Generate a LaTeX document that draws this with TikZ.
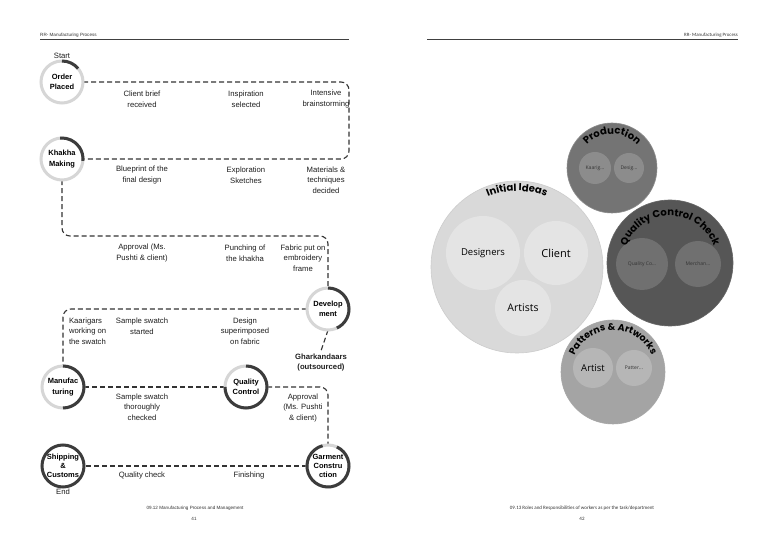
\documentclass[tikz,border=0pt]{standalone}
\usepackage{fontspec}
\setmainfont{Liberation Sans}
\newfontfamily\pop{Poppins}
\newfontfamily\osans{Open Sans}
\newfontfamily\carl{Carlito}
\usetikzlibrary{decorations.text}
\definecolor{ringlight}{HTML}{D6D6D6}
\definecolor{ringdk}{HTML}{3C3C3C}
\definecolor{iiA}{HTML}{D9D9D9}
\definecolor{iiB}{HTML}{E4E4E4}
\definecolor{prA}{HTML}{747474}
\definecolor{prB}{HTML}{8C8C8C}
\definecolor{qcA}{HTML}{565656}
\definecolor{qcB}{HTML}{707070}
\definecolor{paA}{HTML}{A4A4A4}
\definecolor{paB}{HTML}{B6B6B6}
\newcommand{\pring}[3]{%
  \draw[ringbase] (#1.center) circle[radius=21pt];
  \draw[ringarc] ([shift={(#2:21pt)}]#1.center) arc[start angle=#2,end angle=#3,radius=21pt];}
\begin{document}
\begin{tikzpicture}[x=1pt,y=1pt,
  stepnode/.style={circle,minimum size=42pt,inner sep=0pt,align=center,
    font=\fontsize{7.5}{10.5}\selectfont\bfseries},
  stepthree/.style={stepnode,font=\fontsize{7.5}{9.3}\selectfont\bfseries},
  lbl/.style={align=center,font=\fontsize{7.7}{10.7}\selectfont,text=black!88},
  flow/.style={draw=black!80,line width=1.1pt,dash pattern=on 5pt off 3pt,rounded corners=8pt},
  ringbase/.style={draw=ringlight,line width=3pt},
  ringarc/.style={draw=ringdk,line width=3pt},
  hdr/.style={font=\fontsize{4.6}{5}\selectfont,text=black!80,inner sep=0pt},
  bubble/.style={circle,inner sep=0pt,align=center},
  big/.style={bubble,draw=black!45,line width=0.6pt},
  sub/.style={bubble,text=black},
]
\useasboundingbox (0,0) rectangle (777,549);
\fill[white] (0,0) rectangle (777,549);

% ---------- headers ----------
\node[hdr,anchor=south west] (hl) at (40,511.5) {RR- Manufacturing Process};
\coordinate (hla) at (40,510);
\coordinate (hlb) at (349,510);
\draw[black!75,line width=0.9pt] (hla) -- (hlb);
\node[hdr,anchor=south east,font=\carl\fontsize{4.9}{5}\selectfont] (hr) at (738,511.5) {RR- Manufacturing Process};
\coordinate (hra) at (427,510);
\coordinate (hrb) at (738,510);
\draw[black!75,line width=0.9pt] (hra) -- (hrb);

% ---------- left page nodes ----------
\node[stepnode] (op) at (62,467) {Order\\Placed};
\node[stepnode] (km) at (62,390) {Khakha\\Making};
\node[stepnode] (dev) at (328,240) {Develop\\ment};
\node[stepnode] (mf) at (63,162) {Manufac\\turing};
\node[stepnode] (qc) at (246,162) {Quality\\Control};
\node[stepthree] (gc) at (328,83) {Garment\\Constru\\ction};
\node[stepthree] (sc) at (63,83) {Shipping\\\&\\Customs};
\node[lbl,font=\fontsize{7.7}{10}\selectfont\bfseries] (gh) at (321,186) {Gharkandaars\\(outsourced)};

\node[lbl] (start) at (62,493) {Start};
\node[lbl] (end) at (63,57) {End};

% connectors
\coordinate (c1) at (349,467);
\coordinate (c2) at (349,390);
\draw[flow] (op.east) -- (c1) -- (c2) -- (km.east);
\coordinate (c3) at (62,313);
\coordinate (c4) at (328,313);
\draw[flow] (km.south) -- (c3) -- (c4) -- (dev.north);
\coordinate (c5) at (63,240);
\draw[flow] (dev.west) -- (c5) -- (mf.north);
\draw[flow] (dev.south) -- (gh.north);
\draw[flow] (mf.east) -- (qc.west);
\coordinate (c6) at (328,162);
\draw[flow] (qc.east) -- (c6) -- (gc.north);
\draw[flow] (gc.west) -- (sc.east);

% rings
\pring{op}{90}{40}
\pring{km}{95}{-5}
\pring{dev}{90}{-65}
\pring{mf}{90}{-90}
\pring{qc}{90}{-180}
\pring{gc}{65}{-255}
\draw[ringarc] (sc.center) circle[radius=21pt];

% labels
\node[lbl] (l1) at (142,450) {Client brief\\received};
\node[lbl] (l2) at (246,450) {Inspiration\\selected};
\node[lbl] (l3) at (326,450) {Intensive\\brainstorming};
\node[lbl] (l4) at (142,374) {Blueprint of the\\final design};
\node[lbl] (l5) at (246,374) {Exploration\\Sketches};
\node[lbl] (l6) at (326,369) {Materials \&\\techniques\\decided};
\node[lbl] (l7) at (142,296) {Approval (Ms.\\Pushti \& client)};
\node[lbl] (l8) at (245,296) {Punching of\\the khakha};
\node[lbl] (l9) at (303,291) {Fabric put on\\embroidery\\frame};
\node[lbl,align=left,anchor=west] (l10) at (65.5,218) {Kaarigars\\working on\\the swatch};
\node[lbl] (l11) at (142,223) {Sample swatch\\started};
\node[lbl] (l12) at (245,218) {Design\\superimposed\\on fabric};
\node[lbl] (l13) at (142,142) {Sample swatch\\thoroughly\\checked};
\node[lbl] (l14) at (303,141) {Approval\\(Ms. Pushti\\\& client)};
\node[lbl] (l15) at (142,73) {Quality check};
\node[lbl] (l16) at (249,73) {Finishing};

% footers
\node[hdr] (f1) at (195,41) {09.12 Manufacturing Process and Management};
\node[hdr] (f2) at (194,30) {41};
\node[hdr,font=\carl\fontsize{5}{5}\selectfont] (f3) at (582,41) {09.13 Roles and Responsibilities of workers as per the task/department};
\node[hdr,font=\carl\fontsize{5}{5}\selectfont] (f4) at (582,30) {42};

% ---------- right page bubbles ----------
\node[big,fill=iiA,draw=black!20,minimum size=172pt] (ii) at (517,282) {};
\node[sub,fill=iiB,minimum size=74pt,font=\osans\fontsize{9.5}{10}\selectfont] (des) at (483,296) {Designers};
\node[sub,fill=iiB,minimum size=64pt,font=\osans\fontsize{11}{12}\selectfont] (cli) at (556,296) {Client};
\node[sub,fill=iiB,minimum size=56pt,font=\osans\fontsize{10.5}{12}\selectfont] (art) at (523,241) {Artists};

\node[big,fill=prA,minimum size=90pt] (pr) at (612,381) {};
\node[sub,fill=prB,minimum size=32pt,text=black!80,font=\osans\fontsize{5}{6}\selectfont] (pr1) at (595,381) {Kaarig...};
\node[sub,fill=prB,minimum size=30pt,text=black!80,font=\osans\fontsize{5}{6}\selectfont] (pr2) at (629,381) {Desig...};

\node[big,fill=qcA,draw=black!60,minimum size=126pt] (qcc) at (670,286) {};
\node[sub,fill=qcB,minimum size=52pt,text=black!80,font=\osans\fontsize{5}{6}\selectfont] (q1) at (642,285) {Quality Co...};
\node[sub,fill=qcB,minimum size=46pt,text=black!80,font=\osans\fontsize{5}{6}\selectfont] (q2) at (698,285) {Merchan...};

\node[big,fill=paA,draw=black!35,minimum size=104pt] (pa) at (613,177) {};
\node[sub,fill=paB,minimum size=40pt,font=\osans\fontsize{9.5}{10}\selectfont] (pa1) at (593,181) {Artist};
\node[sub,fill=paB,minimum size=36pt,text=black!80,font=\osans\fontsize{5}{6}\selectfont] (pa2) at (634,181) {Patter...};

% curved titles
\path[decorate,decoration={text along path,text align=center,
  text={|\pop\bfseries\fontsize{10}{10}\selectfont|Initial Ideas}}]
  ([shift={(200:76pt)}]ii.center) arc[start angle=200,end angle=-20,radius=76pt];
\path[decorate,decoration={text along path,text align=center,
  text={|\pop\bfseries\fontsize{10}{10}\selectfont|Production}}]
  ([shift={(200:34pt)}]pr.center) arc[start angle=200,end angle=-20,radius=34pt];
\path[decorate,decoration={text along path,text align=center,
  text={|\pop\bfseries\fontsize{10}{10}\selectfont|Quality Control Check}}]
  ([shift={(200:47pt)}]qcc.center) arc[start angle=200,end angle=-20,radius=47pt];
\path[decorate,decoration={text along path,text align=center,
  text={|\pop\bfseries\fontsize{9.5}{10}\selectfont|Patterns {\&} Artworks}}]
  ([shift={(200:42pt)}]pa.center) arc[start angle=200,end angle=-20,radius=42pt];
\end{tikzpicture}
\end{document}
